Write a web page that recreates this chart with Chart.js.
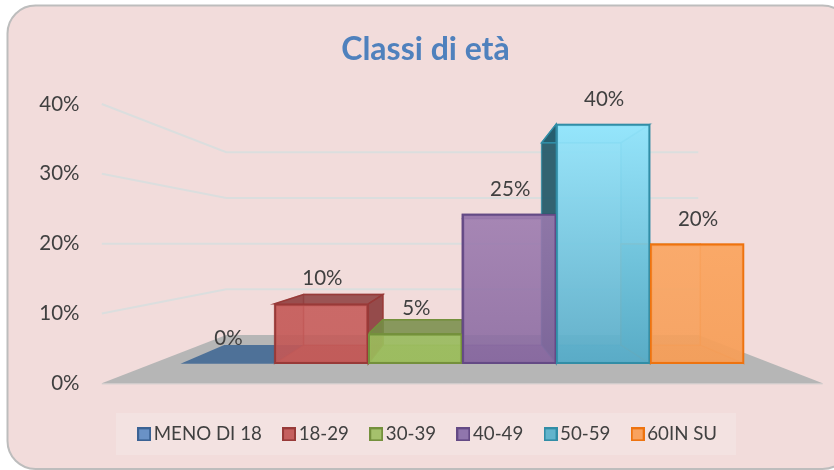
<!DOCTYPE html>
<html><head><meta charset="utf-8">
<style>html,body{margin:0;padding:0;background:#fff}canvas{display:block}</style>
<script src="https://cdn.jsdelivr.net/npm/chart.js@4"></script>
</head><body><canvas id="c" width="834" height="470"></canvas>
<script>
const categories = ['MENO DI 18','18-29','30-39','40-49','50-59','60IN SU'];
const values = [0,10,5,25,40,20];
const yTicks = [0,10,20,30,40];
const titleText = 'Classi di età';

const lineColors = ['#3A6294','#983A38','#74903C','#644A85','#318DA6','#EE730F'];
const swatchFill = ['#6A92C6','#C55F5E','#A5C16C','#9076AD','#62B4CC','#F9A25E'];
const frontTop = ['rgba(79,129,189,.85)','rgba(200,94,92,.88)','rgba(164,196,104,.88)','rgba(168,134,184,.88)','rgba(146,230,253,.92)','rgba(255,172,104,.9)'];
const frontBottom = ['rgba(79,129,189,.85)','rgba(196,88,86,.88)','rgba(156,190,92,.88)','rgba(136,104,160,.88)','rgba(88,172,200,.92)','rgba(246,158,88,.9)'];
const topFaces = ['rgba(79,110,150,.9)','rgba(140,60,60,.85)','rgba(118,140,70,.85)','rgba(110,80,140,.7)','rgba(130,225,250,.5)','rgba(255,170,100,.5)'];
const leftFaces = ['rgba(0,0,0,0)','rgba(170,70,68,.25)','rgba(130,160,70,.25)','rgba(110,85,140,.35)','rgba(34,88,104,.92)','rgba(100,170,175,.95)'];
const rightFaces = ['rgba(0,0,0,0)','rgba(135,55,55,.88)','rgba(118,140,70,.5)','rgba(100,75,135,.55)','rgba(70,175,205,.35)','rgba(255,165,90,.35)'];
const floorFaces = ['rgba(78,113,152,1)','rgba(170,70,68,.55)','rgba(140,170,80,.55)','rgba(110,85,140,.55)','rgba(60,150,180,.55)','rgba(245,150,70,.4)'];

const BACK = 0.845, WALL = 0.7615, FRONT = 1.163, WALL_FROM_FRONT = WALL / FRONT, FLOOR_HALF_BANDS = 3.3;

function makeSwatch(fill, stroke) {
  const s = document.createElement('canvas');
  s.width = 14; s.height = 14;
  const g = s.getContext('2d');
  g.fillStyle = fill; g.fillRect(1, 1, 12, 12);
  g.strokeStyle = stroke; g.lineWidth = 2; g.strokeRect(1, 1, 12, 12);
  return s;
}
const swatches = categories.map((_, i) => makeSwatch(swatchFill[i], lineColors[i]));

const scene = {
  id: 'scene',
  beforeDraw(chart) {
    const c = chart.ctx;
    c.save();
    c.beginPath();
    c.roundRect(7.5, 5.5, 843, 463.5, 28);
    c.fillStyle = '#F2DCDB';
    c.fill();
    c.lineWidth = 2;
    c.strokeStyle = '#BDBDBD';
    c.stroke();
    c.fillStyle = '#F3E2E1';
    c.fillRect(116, 413, 620, 42);
    c.restore();
  },
  afterLayout(chart) {
    const l = chart.legend, t = chart.titleBlock;
    const dl = 430.5 - (l.left + l.right) / 2;
    l.left += dl; l.right += dl;
    l.top = 398; l.bottom = 470;
    const dt = 425.5 - (t.left + t.right) / 2;
    t.left += dt; t.right += dt;
  },
  beforeDatasetsDraw(chart) {
    const c = chart.ctx, xs = chart.scales.x, ya = chart.scales.y, yb = chart.scales.yBars;
    const vx = (xs.left + xs.right) / 2, vy = ya.getPixelForValue(20);
    const band = xs.width / categories.length;
    const P = (x, y, s) => [vx + (x - vx) * s, vy + (y - vy) * s];
    const poly = (pts, fill, stroke, lw) => {
      c.beginPath();
      pts.forEach((p, i) => i ? c.lineTo(p[0], p[1]) : c.moveTo(p[0], p[1]));
      c.closePath();
      if (fill) { c.fillStyle = fill; c.fill(); }
      if (stroke) { c.strokeStyle = stroke; c.lineWidth = lw || 1; c.stroke(); }
    };
    c.save();
    const fl = band * FLOOR_HALF_BANDS * FRONT;
    const xFL = vx - fl, xFR = vx + fl;
    const wl = vx - fl * WALL_FROM_FRONT, wr = vx + fl * WALL_FROM_FRONT;
    c.strokeStyle = '#DBDEDE'; c.lineWidth = 2;
    yTicks.forEach(v => {
      const yf = ya.getPixelForValue(v);
      const yw = vy + (yf - vy) * WALL_FROM_FRONT;
      c.beginPath();
      if (v > 0) { c.moveTo(xFL, yf); c.lineTo(wl, yw); c.lineTo(wr, yw); c.stroke(); }
    });
    const yf0 = ya.getPixelForValue(0), yw0 = vy + (yf0 - vy) * WALL_FROM_FRONT;
    poly([[xFL, yf0], [xFR, yf0], [wr, yw0], [wl, yw0]], '#B6B6B6');
    c.strokeStyle = '#C9C9C9'; c.lineWidth = 1;
    c.beginPath(); c.moveTo(xFL, yf0 + .5); c.lineTo(xFR, yf0 + .5); c.stroke();
    const meta = chart.getDatasetMeta(0);
    meta.data.forEach((bar, i) => {
      const L = bar.x - bar.width / 2, R = bar.x + bar.width / 2;
      const T = yb.getPixelForValue(values[i]), B = yb.getPixelForValue(0);
      const line = lineColors[i];
      const bTL = P(L, T, BACK), bTR = P(R, T, BACK), bBL = P(L, B, BACK), bBR = P(R, B, BACK);
      poly([[L, B], [R, B], bBR, bBL], floorFaces[i]);
      if (values[i] > 0) {
        poly([bTL, bTR, bBR, bBL], null, line + '88', 1.4);
        poly([[L, T], bTL, bBL, [L, B]], leftFaces[i], i >= 3 ? line + '99' : line + '55', 1.4);
        poly([[R, T], bTR, bBR, [R, B]], rightFaces[i], i <= 2 ? line : line + '66', 1.4);
        poly([[L, T], [R, T], bTR, bTL], topFaces[i], i <= 2 ? line : line + '88', 1.4);
        if (bTL[0] < L && bTL[1] > T) poly([[L, T], bTL, [L, bTL[1]]], leftFaces[i], line, 1.4);
      }
    });
    c.restore();
  },
  afterDatasetsDraw(chart) {
    const c = chart.ctx, yb = chart.scales.yBars;
    c.save();
    c.font = '20.5px Lato';
    c.fillStyle = '#404040';
    c.textAlign = 'center';
    c.textBaseline = 'middle';
    chart.getDatasetMeta(0).data.forEach((bar, i) => {
      c.fillText(values[i] + '%', bar.x + 1, yb.getPixelForValue(values[i]) - 25);
    });
    c.restore();
  }
};

new Chart(document.getElementById('c'), {
  type: 'bar',
  data: {
    labels: categories,
    datasets: [{
      data: values,
      yAxisID: 'yBars',
      categoryPercentage: 1,
      barPercentage: 1,
      borderWidth: 2,
      borderSkipped: false,
      borderColor: lineColors,
      backgroundColor(ctx) {
        const i = ctx.dataIndex;
        if (i === undefined) return 'transparent';
        const g = ctx.chart.ctx.createLinearGradient(0, 124, 0, 362);
        g.addColorStop(0, frontTop[i]);
        g.addColorStop(1, frontBottom[i]);
        return g;
      }
    }]
  },
  plugins: [scene],
  options: {
    responsive: false,
    maintainAspectRatio: false,
    animation: false,
    devicePixelRatio: 1,
    layout: { autoPadding: false, padding: { left: 38, right: 90, top: 0, bottom: 23 } },
    scales: {
      x: { offset: true, grid: { display: false }, border: { display: false }, ticks: { display: false } },
      y: {
        position: 'left', min: 0, max: 40,
        afterBuildTicks(s) { s.ticks = yTicks.map(v => ({ value: v })); },
        afterFit(s) { s.width = 142.5; },
        grid: { display: false, drawTicks: true, tickLength: 101 }, border: { display: false },
        ticks: { padding: 0, color: '#404040', font: { family: 'Lato', size: 20.5 }, callback: v => v + '%' }
      },
      yBars: { display: false, position: 'left', min: -3.27, max: 43.37 }
    },
    plugins: {
      tooltip: { enabled: false },
      title: {
        display: true, text: titleText, color: '#4F81BD',
        font: { family: 'Lato', size: 32, weight: 'bold' },
        padding: { top: 30, bottom: 35.6 }
      },
      legend: {
        display: true, position: 'bottom',
        labels: {
          usePointStyle: true, boxWidth: 0.5, boxHeight: 13, padding: 27, color: '#404040',
          font: { family: 'Lato', size: 18.7 },
          generateLabels: () => categories.map((t, i) => ({
            text: t, pointStyle: swatches[i], fillStyle: swatchFill[i], strokeStyle: lineColors[i], lineWidth: 2,
            hidden: false, index: i, fontColor: '#404040'
          }))
        }
      }
    }
  }
});
</script></body></html>
